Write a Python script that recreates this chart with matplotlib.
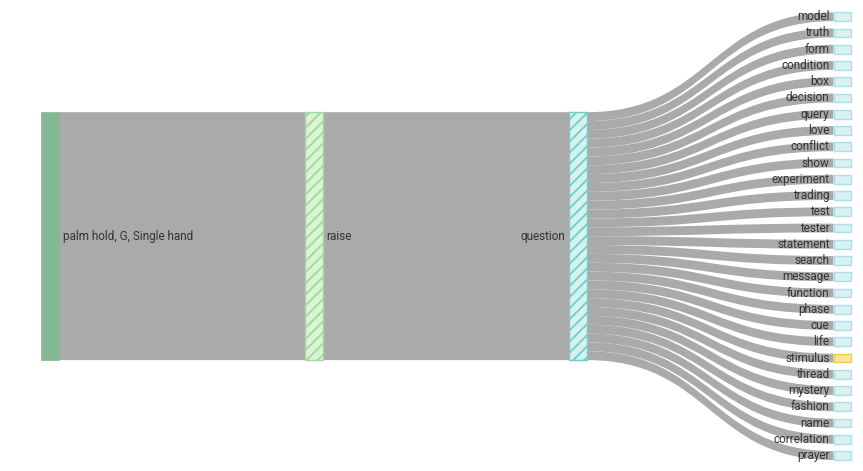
import matplotlib
matplotlib.use("Agg")
import matplotlib.pyplot as plt
from matplotlib.path import Path
from matplotlib.patches import PathPatch, Rectangle

plt.rcParams['font.family'] = ['Roboto', 'DejaVu Sans']
plt.rcParams['hatch.linewidth'] = 1.3

# ---------------- data ----------------
first_node = "palm hold, G, Single hand"
middle_nodes = ["raise", "question"]
leaf_nodes = ["model", "truth", "form", "condition", "box", "decision", "query",
              "love", "conflict", "show", "experiment", "trading", "test", "tester",
              "statement", "search", "message", "function", "phase", "cue", "life",
              "stimulus", "thread", "mystery", "fashion", "name", "correlation",
              "prayer"]
leaf_values = [1, 1, 1, 1, 1, 1, 1, 1, 1, 1, 1, 1, 1, 1,
               1, 1, 1, 1, 1, 1, 1, 1, 1, 1, 1, 1, 1, 1]
highlight_leaf = "stimulus"

# links (source, target, value)
link_src = [first_node, "raise"] + ["question"] * len(leaf_nodes)
link_tgt = ["raise", "question"] + leaf_nodes
link_val = [sum(leaf_values), sum(leaf_values)] + leaf_values

# ---------------- layout ----------------
W, H = 863, 471
x_left, x_right = 41.0, 851.0
node_w = 17.5
y_top, y_bot = 12.3, 460.0
pad = 7.4

columns = [[first_node], ["raise"], ["question"], leaf_nodes]
ncol = len(columns)
col_step = (x_right - node_w - x_left) / (ncol - 1)

# node values
node_val = {}
for s, t, v in zip(link_src, link_tgt, link_val):
    node_val[t] = node_val.get(t, 0) + v
node_out = {}
for s, t, v in zip(link_src, link_tgt, link_val):
    node_out[s] = node_out.get(s, 0) + v
for n, v in node_out.items():
    node_val[n] = max(node_val.get(n, 0), v)

avail = y_bot - y_top
k = min((avail - (len(c) - 1) * pad) / sum(node_val[n] for n in c) for c in columns)

pos = {}
for ci, col in enumerate(columns):
    x0 = x_left + ci * col_step
    total = sum(node_val[n] for n in col) * k + (len(col) - 1) * pad
    y = y_top + (avail - total) / 2
    for n in col:
        h = node_val[n] * k
        pos[n] = (x0, y, h)
        y += h + pad

fig = plt.figure(figsize=(W / 100, H / 100), dpi=100)
ax = fig.add_axes([0, 0, 1, 1])
ax.set_xlim(0, W)
ax.set_ylim(H, 0)
ax.axis('off')

link_color = '#aaaaaa'
src_off = {n: 0.0 for n in pos}
tgt_off = {n: 0.0 for n in pos}
for s, t, v in zip(link_src, link_tgt, link_val):
    sx, sy, sh = pos[s]
    tx, ty, th = pos[t]
    x0 = sx + node_w
    x1 = tx
    w = v * k
    s0 = sy + src_off[s]; s1 = s0 + w
    t0 = ty + tgt_off[t]; t1 = t0 + w
    src_off[s] += w
    tgt_off[t] += w
    xm = (x0 + x1) / 2
    verts = [(x0, s0), (xm, s0), (xm, t0), (x1, t0),
             (x1, t1), (xm, t1), (xm, s1), (x0, s1), (x0, s0)]
    codes = [Path.MOVETO, Path.CURVE4, Path.CURVE4, Path.CURVE4,
             Path.LINETO, Path.CURVE4, Path.CURVE4, Path.CURVE4, Path.CLOSEPOLY]
    ax.add_patch(PathPatch(Path(verts, codes), facecolor=link_color,
                           edgecolor='none', zorder=1))

# nodes
style = {
    first_node: dict(facecolor='#82b994', edgecolor='#82b994', hatch=None, lw=0.5),
    "raise": dict(facecolor='#daf3d4', edgecolor='#9bdc9b', hatch='///', lw=1.0),
    "question": dict(facecolor='#d6f1f0', edgecolor='#6ccfcc', hatch='///', lw=1.0),
}
for n, (x, y, h) in pos.items():
    if n in style:
        st = style[n]
    elif n == highlight_leaf:
        st = dict(facecolor='#fae79d', edgecolor='#f1c94a', hatch=None, lw=1.0)
    else:
        st = dict(facecolor='#d9f1f3', edgecolor='#abe0e4', hatch=None, lw=1.0)
    ax.add_patch(Rectangle((x, y), node_w, h, facecolor=st['facecolor'],
                           edgecolor=st['edgecolor'], hatch=st['hatch'],
                           linewidth=st['lw'], zorder=2))

# labels
txt_color = '#333333'
fs = 8.5
for n, (x, y, h) in pos.items():
    cy = y + h / 2
    if n in (first_node, "raise"):
        ax.text(x + node_w + 4, cy, n, ha='left', va='center', fontsize=fs,
                color=txt_color, zorder=3)
    else:
        ax.text(x - 4, cy, n, ha='right', va='center', fontsize=fs,
                color=txt_color, zorder=3)

fig.savefig('out.png', dpi=100)
